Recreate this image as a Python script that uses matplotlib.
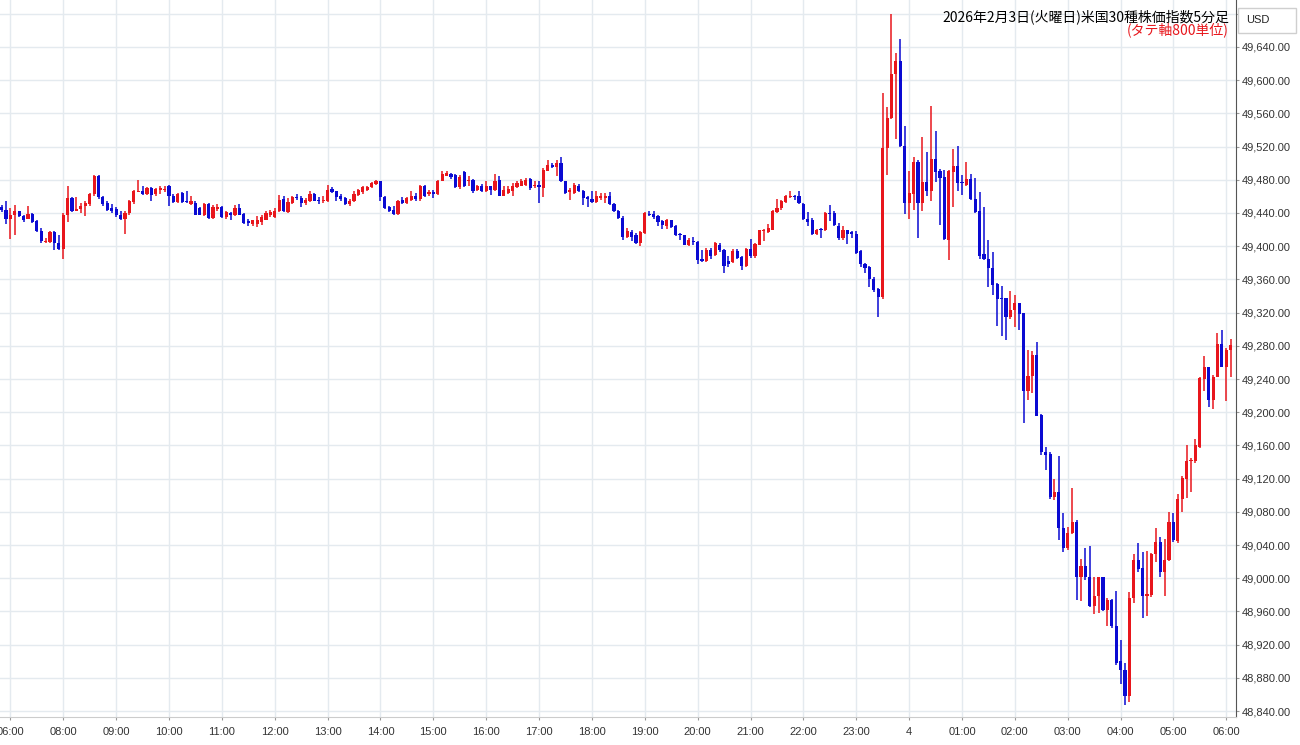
import numpy as np
import pandas as pd
import matplotlib
matplotlib.use('Agg')
from matplotlib import pyplot as plt
from matplotlib.patches import Rectangle

plt.rcParams['font.family'] = ['Noto Sans CJK JP', 'DejaVu Sans']

# 5分足 (05:50-06:55, 08:00-翌06:05)
times = list(pd.date_range('2026-02-03 05:50', '2026-02-03 06:55', freq='5min')) + \
        list(pd.date_range('2026-02-03 08:00', '2026-02-04 06:05', freq='5min'))

opens = [
    49447, 49444, 49433, 49437, 49442, 49436, 49433, 49439, 49430, 49418,
    49405, 49405, 49417, 49404, 49397, 49437, 49458, 49442, 49445, 49449,
    49451, 49463, 49485, 49459, 49452, 49446, 49445, 49437, 49433, 49440,
    49453, 49465, 49467, 49463, 49470, 49463, 49468, 49468, 49473, 49461,
    49453, 49464, 49454, 49451, 49452, 49446, 49437, 49451, 49434, 49445,
    49447, 49435, 49440, 49438, 49446, 49439, 49430, 49427, 49427, 49429,
    49432, 49438, 49435, 49442, 49457, 49441, 49452, 49459, 49458, 49452,
    49455, 49463, 49456, 49454, 49454, 49469, 49466, 49460, 49458, 49451,
    49454, 49462, 49465, 49468, 49471, 49475, 49479, 49459, 49447, 49444,
    49439, 49456, 49452, 49456, 49461, 49457, 49473, 49463, 49465, 49463,
    49479, 49485, 49487, 49486, 49471, 49489, 49479, 49480, 49468, 49473,
    49466, 49472, 49468, 49480, 49461, 49464, 49466, 49471, 49473, 49474,
    49481, 49472, 49474, 49470, 49491, 49498, 49495, 49500, 49478, 49465,
    49464, 49473, 49467, 49459, 49457, 49453, 49458, 49458, 49461, 49451,
    49443, 49434, 49411, 49417, 49414, 49404, 49416, 49439, 49439, 49436,
    49430, 49424, 49431, 49424, 49414, 49413, 49402, 49406, 49405, 49384,
    49382, 49396, 49389, 49402, 49396, 49382, 49381, 49394, 49387, 49376,
    49397, 49388, 49402, 49418, 49417, 49420, 49441, 49446, 49453, 49459,
    49461, 49460, 49451, 49433, 49431, 49415, 49420, 49419, 49440, 49440,
    49424, 49410, 49419, 49417, 49415, 49394, 49378, 49375, 49360, 49348,
    49339, 49518, 49554, 49607, 49623, 49521, 49452, 49463, 49502, 49452,
    49477, 49466, 49505, 49490, 49483, 49408, 49489, 49497, 49477, 49474,
    49481, 49457, 49442, 49390, 49385, 49374, 49355, 49337, 49337, 49315,
    49323, 49332, 49319, 49225, 49244, 49269, 49197, 49152, 49150, 49098,
    49104, 49061, 49037, 49054, 49068, 49002, 49015, 49001, 48967, 48978,
    49001, 48962, 48974, 48943, 48900, 48889, 48858, 48976, 49022, 49012,
    48979, 48980, 49029, 49044, 49007, 49022, 49068, 49045, 49095, 49119,
    49141, 49141, 49158, 49240, 49254, 49215, 49243, 49282, 49255, 49275,
]
highs = [
    49450, 49455, 49446, 49450, 49443, 49438, 49449, 49440, 49432, 49422,
    49410, 49418, 49418, 49413, 49440, 49472, 49459, 49459, 49452, 49454,
    49464, 49486, 49486, 49461, 49454, 49451, 49447, 49442, 49442, 49456,
    49468, 49480, 49473, 49471, 49471, 49470, 49472, 49472, 49474, 49463,
    49464, 49465, 49467, 49460, 49454, 49447, 49452, 49452, 49450, 49451,
    49448, 49442, 49441, 49450, 49451, 49440, 49433, 49432, 49436, 49437,
    49442, 49444, 49446, 49462, 49460, 49458, 49460, 49463, 49460, 49458,
    49466, 49464, 49459, 49460, 49474, 49471, 49467, 49463, 49459, 49457,
    49467, 49469, 49472, 49473, 49477, 49480, 49479, 49461, 49448, 49448,
    49456, 49459, 49459, 49466, 49464, 49474, 49474, 49468, 49468, 49480,
    49490, 49491, 49488, 49487, 49486, 49490, 49484, 49481, 49474, 49475,
    49479, 49473, 49487, 49484, 49472, 49472, 49476, 49478, 49481, 49482,
    49482, 49478, 49478, 49494, 49504, 49500, 49504, 49508, 49479, 49470,
    49476, 49475, 49468, 49460, 49466, 49466, 49464, 49464, 49465, 49452,
    49444, 49436, 49422, 49420, 49416, 49418, 49441, 49442, 49443, 49437,
    49432, 49433, 49432, 49425, 49416, 49414, 49410, 49411, 49406, 49396,
    49398, 49398, 49405, 49404, 49397, 49388, 49397, 49397, 49388, 49398,
    49409, 49404, 49420, 49421, 49427, 49444, 49457, 49456, 49462, 49466,
    49462, 49467, 49452, 49441, 49434, 49421, 49422, 49441, 49450, 49442,
    49428, 49424, 49420, 49418, 49418, 49395, 49380, 49376, 49363, 49350,
    49584, 49568, 49680, 49633, 49650, 49545, 49491, 49508, 49504, 49532,
    49514, 49569, 49539, 49493, 49492, 49492, 49517, 49521, 49486, 49501,
    49487, 49482, 49465, 49447, 49408, 49393, 49356, 49352, 49338, 49346,
    49341, 49332, 49320, 49275, 49274, 49285, 49198, 49158, 49152, 49120,
    49147, 49079, 49062, 49109, 49070, 49023, 49036, 49039, 49002, 49002,
    49002, 48976, 48975, 48984, 48926, 48898, 48983, 49029, 49042, 49031,
    49033, 49030, 49060, 49050, 49047, 49080, 49078, 49101, 49123, 49160,
    49145, 49168, 49243, 49268, 49255, 49245, 49296, 49299, 49277, 49288,
]
lows = [
    49441, 49427, 49409, 49414, 49435, 49429, 49433, 49428, 49417, 49404,
    49404, 49404, 49395, 49395, 49384, 49429, 49441, 49442, 49440, 49436,
    49448, 49461, 49457, 49449, 49443, 49440, 49435, 49432, 49415, 49438,
    49451, 49465, 49462, 49462, 49455, 49461, 49463, 49465, 49448, 49452,
    49452, 49452, 49452, 49450, 49437, 49437, 49436, 49433, 49433, 49442,
    49434, 49433, 49431, 49436, 49437, 49427, 49424, 49424, 49423, 49426,
    49431, 49435, 49434, 49441, 49441, 49440, 49451, 49456, 49447, 49450,
    49453, 49454, 49451, 49452, 49453, 49464, 49455, 49454, 49450, 49449,
    49453, 49461, 49463, 49467, 49470, 49474, 49455, 49445, 49441, 49438,
    49438, 49451, 49451, 49455, 49455, 49455, 49459, 49461, 49458, 49462,
    49478, 49484, 49481, 49470, 49469, 49471, 49472, 49464, 49466, 49465,
    49465, 49462, 49467, 49460, 49460, 49463, 49461, 49470, 49472, 49473,
    49468, 49470, 49452, 49459, 49490, 49494, 49484, 49477, 49463, 49456,
    49463, 49465, 49450, 49447, 49452, 49452, 49456, 49452, 49450, 49441,
    49433, 49408, 49410, 49406, 49403, 49400, 49415, 49436, 49433, 49424,
    49421, 49421, 49422, 49412, 49408, 49401, 49400, 49402, 49379, 49381,
    49381, 49384, 49388, 49393, 49368, 49375, 49380, 49384, 49371, 49375,
    49386, 49386, 49401, 49406, 49416, 49419, 49440, 49444, 49452, 49458,
    49456, 49451, 49432, 49424, 49414, 49414, 49410, 49418, 49430, 49424,
    49408, 49408, 49403, 49410, 49391, 49375, 49368, 49351, 49345, 49315,
    49336, 49486, 49553, 49529, 49520, 49439, 49433, 49444, 49410, 49443,
    49461, 49454, 49477, 49426, 49408, 49383, 49447, 49466, 49462, 49472,
    49456, 49440, 49384, 49383, 49351, 49341, 49304, 49292, 49287, 49312,
    49303, 49299, 49187, 49215, 49223, 49195, 49148, 49130, 49096, 49094,
    49046, 49032, 49034, 49053, 48974, 48972, 48998, 48965, 48957, 48958,
    48961, 48943, 48940, 48896, 48873, 48847, 48851, 48970, 49008, 48952,
    48954, 48977, 49020, 49001, 48979, 49021, 49044, 49043, 49080, 49097,
    49104, 49139, 49157, 49225, 49206, 49204, 49242, 49254, 49213, 49243,
]
closes = [
    49444, 49433, 49437, 49442, 49436, 49432, 49439, 49429, 49418, 49406,
    49406, 49417, 49404, 49397, 49437, 49458, 49442, 49445, 49449, 49452,
    49463, 49485, 49459, 49451, 49444, 49442, 49437, 49433, 49440, 49454,
    49466, 49467, 49463, 49470, 49462, 49469, 49470, 49469, 49461, 49453,
    49463, 49453, 49453, 49455, 49438, 49438, 49451, 49434, 49447, 49447,
    49435, 49441, 49438, 49446, 49438, 49428, 49428, 49431, 49432, 49435,
    49440, 49441, 49443, 49456, 49442, 49453, 49459, 49458, 49452, 49456,
    49463, 49455, 49454, 49455, 49468, 49465, 49459, 49457, 49451, 49455,
    49463, 49468, 49471, 49471, 49476, 49479, 49459, 49446, 49442, 49439,
    49455, 49452, 49458, 49461, 49457, 49473, 49460, 49465, 49463, 49479,
    49487, 49488, 49483, 49471, 49483, 49473, 49480, 49467, 49472, 49466,
    49473, 49468, 49479, 49461, 49468, 49469, 49473, 49476, 49478, 49480,
    49470, 49473, 49471, 49492, 49498, 49495, 49500, 49478, 49464, 49468,
    49474, 49467, 49458, 49457, 49453, 49460, 49460, 49461, 49451, 49442,
    49434, 49411, 49418, 49411, 49404, 49417, 49440, 49437, 49435, 49429,
    49425, 49431, 49423, 49413, 49413, 49402, 49407, 49405, 49383, 49382,
    49396, 49388, 49404, 49395, 49376, 49378, 49394, 49386, 49376, 49397,
    49388, 49403, 49419, 49420, 49422, 49442, 49446, 49454, 49460, 49461,
    49459, 49452, 49433, 49429, 49415, 49419, 49419, 49440, 49439, 49425,
    49410, 49419, 49415, 49415, 49392, 49378, 49374, 49360, 49347, 49339,
    49518, 49554, 49608, 49623, 49521, 49452, 49464, 49502, 49452, 49477,
    49466, 49505, 49489, 49482, 49409, 49490, 49497, 49476, 49476, 49481,
    49457, 49441, 49388, 49384, 49374, 49353, 49336, 49336, 49315, 49323,
    49332, 49318, 49225, 49244, 49269, 49196, 49152, 49148, 49098, 49104,
    49060, 49037, 49054, 49068, 49002, 49015, 49001, 48967, 48979, 49001,
    48962, 48974, 48943, 48898, 48889, 48858, 48976, 49022, 49011, 48979,
    48981, 49029, 49044, 49007, 49022, 49068, 49046, 49096, 49121, 49141,
    49142, 49161, 49241, 49254, 49215, 49243, 49282, 49255, 49275, 49281,
]

title_text = '2026年2月3日(火曜日)米国30種株価指数5分足'
unit_text = '(タテ軸800単位)'
currency = 'USD'

up_color = '#e8161c'
down_color = '#0a0ad2'
grid_color = '#e4eaef'

df = pd.DataFrame({'time': times, 'open': opens, 'high': highs, 'low': lows, 'close': closes})
df['x'] = np.arange(len(df))
up = df['close'] >= df['open']
colors = np.where(up, up_color, down_color)

fig = plt.figure(figsize=(13, 7.45), dpi=100)
ax = fig.add_axes([0, 28 / 745, 1236 / 1300, 717 / 745])

# ヒゲ
ax.vlines(df['x'], df['low'], df['high'], colors=colors, linewidth=1.1, zorder=3)
# 実体
body_low = df[['open', 'close']].min(axis=1)
body_h = (df['close'] - df['open']).abs().clip(lower=1.3)
ax.bar(df['x'], body_h, bottom=body_low, width=0.72, color=colors, linewidth=0, zorder=4)

ax.set_xlim(-0.36, 280.2)
ax.set_ylim(48832.8, 49696.6)

# 目盛り
yt = np.arange(48840, 49681, 40)
ax.set_yticks(yt)
ax.set_yticklabels(['{:,.2f}'.format(v) if v <= 49640 else '' for v in yt])
ax.yaxis.tick_right()

hour_idx = df.index[df['time'].dt.minute == 0]
hour_lbl = ['4' if (t.hour == 0) else t.strftime('%H:%M') for t in df.loc[hour_idx, 'time']]
ax.set_xticks(df.loc[hour_idx, 'x'])
ax.set_xticklabels(hour_lbl)

ax.grid(True, color=grid_color, linewidth=1, zorder=0)
ax.set_axisbelow(True)
ax.tick_params(axis='both', length=2, color='#999999', labelsize=8, labelcolor='#333333')
ax.tick_params(axis='y', pad=2)
ax.tick_params(axis='x', pad=5)
for lbl in ax.get_xticklabels() + ax.get_yticklabels():
    lbl.set_fontfamily('Liberation Sans')

for s in ['top', 'left']:
    ax.spines[s].set_visible(False)
ax.spines['right'].set_color('#555555')
ax.spines['bottom'].set_color('#cccccc')

fig.text(1229 / 1300, 1 - 21 / 745, title_text, ha='right', va='baseline', fontsize=10, color='black')
fig.text(1229 / 1300, 1 - 34 / 745, unit_text, ha='right', va='baseline', fontsize=10, color='#e8161c')

fig.patches.append(Rectangle((1238 / 1300, 1 - 33 / 745), 58 / 1300, 25 / 745,
                             transform=fig.transFigure, facecolor='white', edgecolor='#cfcfcf', linewidth=1))
fig.text(1246 / 1300, 1 - 20 / 745, currency, ha='left', va='center', fontsize=8,
         color='#222222', family='Liberation Sans')

fig.savefig('out.png', dpi=100)
